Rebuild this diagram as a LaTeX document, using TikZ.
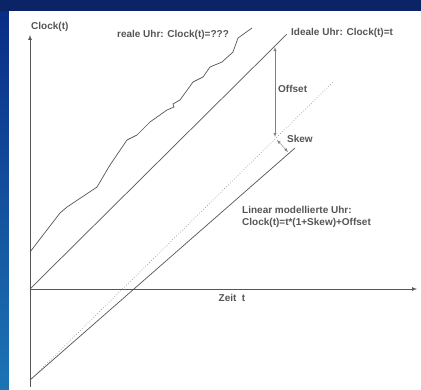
\documentclass[tikz,border=0pt]{standalone}
\usepackage{fontspec}
\setmainfont{Liberation Sans}
\definecolor{slidenavy}{HTML}{0B2466}
\definecolor{stripTop}{HTML}{0A2C86}
\definecolor{stripBot}{HTML}{1C74B4}
\definecolor{inkgray}{HTML}{555555}
\begin{document}
\begin{tikzpicture}[x=1pt,y=-1pt,>=latex,
    lbl/.style={inner sep=0pt,text=inkgray,font=\bfseries\fontsize{10}{12}\selectfont},
    curve/.style={draw=inkgray,line width=0.7pt}]

      \useasboundingbox (0,0) rectangle (421,389);
      \fill[slidenavy] (0,0) rectangle (421,11);
      \shade[top color=stripTop,bottom color=stripBot] (0,11) rectangle (9,389);
      \fill[white] (9,11) rectangle (421,389);

      \coordinate (orig) at (30,289);
      \coordinate (y_bot) at (30,387);
      \coordinate (y_top) at (30,35);
      \coordinate (x_end) at (417,289);
      \coordinate (ideal_end) at (287,34);
      \coordinate (lin_start) at (30,380);
      \coordinate (lin_end) at (295,148);
      \coordinate (dot_end) at (333,82);
      \coordinate (real_start) at (30,252);
      \coordinate (real_end) at (252,28);
      \coordinate (off_top) at (275,47);
      \coordinate (off_bot) at (275,137);
      \coordinate (skew_a) at (277,140);
      \coordinate (skew_b) at (288,152);

      \path (31,27) node [lbl,anchor=west](lab_clock){Clock(t)};
      \path (173,35) node [lbl](lab_real){reale Uhr: Clock(t)=???};
      \path (291,33) node [lbl,anchor=west](lab_ideal){Ideale Uhr: Clock(t)=t};
      \path (278,89) node [lbl,anchor=west](lab_offset){Offset};
      \path (287,139) node [lbl,anchor=west](lab_skew){Skew};
      \path (232,298) node [lbl](lab_zeit){Zeit\ \ t};
      \path (242,206) node [lbl,anchor=north west,align=left](lab_linear){Linear modellierte Uhr:\\Clock(t)=t*(1+Skew)+Offset};

      % axes
      \draw[curve,->] (y_bot) -- (y_top);
      \draw[curve,->] (orig) -- (x_end);

      \draw[curve] (orig) -- (ideal_end);
      \draw[draw=black!40,dotted,line width=0.7pt] (lin_start) -- (dot_end);
      \draw[curve] (lin_start) -- (lin_end);
      \draw[curve] (real_start) -- (60,213) -- (67,207) -- (97,187) -- (110,165)
        -- (127,140) -- (137,135) -- (150,122) -- (167,110) -- (174,107) -- (173,104)
        -- (180,100) -- (193,82) -- (203,77) -- (210,67) -- (222,62) -- (233,52)
        -- (238,38) -- (real_end);

      \draw[draw=black!50,<->] (off_top) -- (off_bot);
      \draw[draw=black!50,<->] (skew_a) -- (skew_b);

    \end{tikzpicture}
\end{document}
